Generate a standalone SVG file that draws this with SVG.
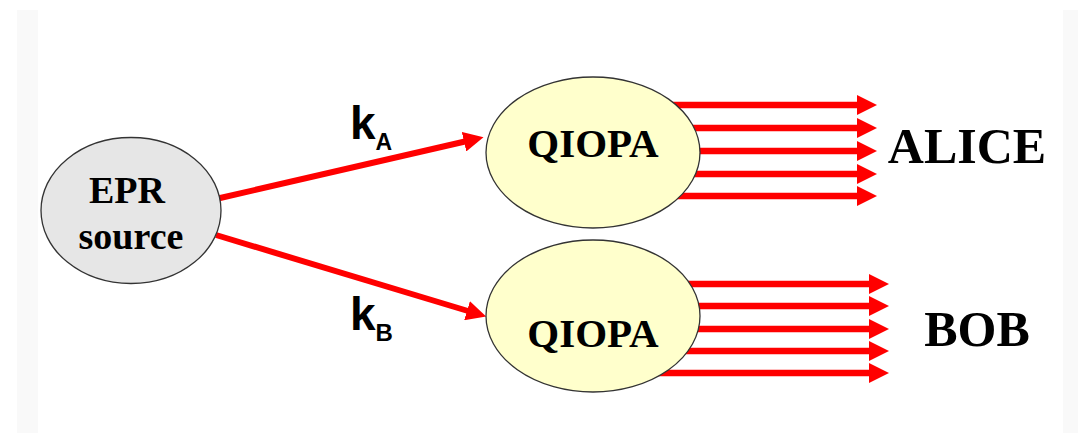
<svg xmlns="http://www.w3.org/2000/svg" width="1078" height="433" viewBox="0 0 1078 433">
  <style>
    .node { stroke: #333333; stroke-width: 1.3; }
    .src { fill: #e6e6e6; }
    .amp { fill: #ffffcc; }
    .lbl { font-family: "Liberation Serif", "Times New Roman", serif; font-weight: bold; fill: #000000; text-anchor: middle; }
    .k { font-family: "Liberation Sans", Arial, sans-serif; font-weight: bold; fill: #000000; }
    .beam { stroke: #ff0000; stroke-width: 6; fill: none; }
    .out { stroke: #ff0000; stroke-width: 6.5; fill: none; }
  </style>
  <defs>
    <marker id="head" viewBox="0 0 20 20" refX="1" refY="10" markerWidth="20" markerHeight="20" markerUnits="userSpaceOnUse" orient="auto">
      <path d="M0,0 L20,10 L0,20 Z" fill="#ff0000"/>
    </marker>
  </defs>

  <rect width="1078" height="433" fill="#ffffff"/>
  <rect x="17" y="10" width="21" height="423" fill="#f9f9f9"/>
  <rect x="1063" y="10" width="15" height="423" fill="#f9f9f9"/>

  <!-- connectors -->
  <g id="connectors">
    <line class="beam" x1="218" y1="198.5" x2="465" y2="141.5" marker-end="url(#head)"/>
    <line class="beam" x1="216" y1="235" x2="468" y2="311" marker-end="url(#head)"/>
    <!-- output beams, upper amplifier -->
    <line class="out" x1="640" y1="105" x2="858" y2="105" marker-end="url(#head)"/>
    <line class="out" x1="640" y1="128" x2="858" y2="128" marker-end="url(#head)"/>
    <line class="out" x1="640" y1="151" x2="858" y2="151" marker-end="url(#head)"/>
    <line class="out" x1="640" y1="174" x2="858" y2="174" marker-end="url(#head)"/>
    <line class="out" x1="640" y1="196" x2="858" y2="196" marker-end="url(#head)"/>
    <!-- output beams, lower amplifier -->
    <line class="out" x1="640" y1="284" x2="870" y2="284" marker-end="url(#head)"/>
    <line class="out" x1="640" y1="306" x2="870" y2="306" marker-end="url(#head)"/>
    <line class="out" x1="640" y1="329" x2="870" y2="329" marker-end="url(#head)"/>
    <line class="out" x1="640" y1="351" x2="870" y2="351" marker-end="url(#head)"/>
    <line class="out" x1="640" y1="373" x2="870" y2="373" marker-end="url(#head)"/>
  </g>

  <g id="epr-source">
    <ellipse class="node src" cx="131" cy="210.5" rx="90" ry="73"/>
    <text class="lbl" x="127" y="203" font-size="38">EPR</text>
    <text class="lbl" x="131" y="249" font-size="38">source</text>
  </g>

  <g id="qiopa-a">
    <ellipse class="node amp" cx="593" cy="152.5" rx="107" ry="75.5"/>
    <text class="lbl" x="593" y="157" font-size="41">QIOPA</text>
  </g>

  <g id="qiopa-b">
    <ellipse class="node amp" cx="593" cy="316" rx="107" ry="76"/>
    <text class="lbl" x="593" y="347" font-size="41">QIOPA</text>
  </g>

  <g id="label-ka">
    <text class="k" x="350" y="139" font-size="46">k<tspan font-size="23" dy="11">A</tspan></text>
  </g>
  <g id="label-kb">
    <text class="k" x="350" y="330" font-size="46">k<tspan font-size="24" dy="11">B</tspan></text>
  </g>

  <g id="alice">
    <text class="lbl" x="967" y="163" font-size="50">ALICE</text>
  </g>
  <g id="bob">
    <text class="lbl" x="977" y="346" font-size="50">BOB</text>
  </g>
</svg>
